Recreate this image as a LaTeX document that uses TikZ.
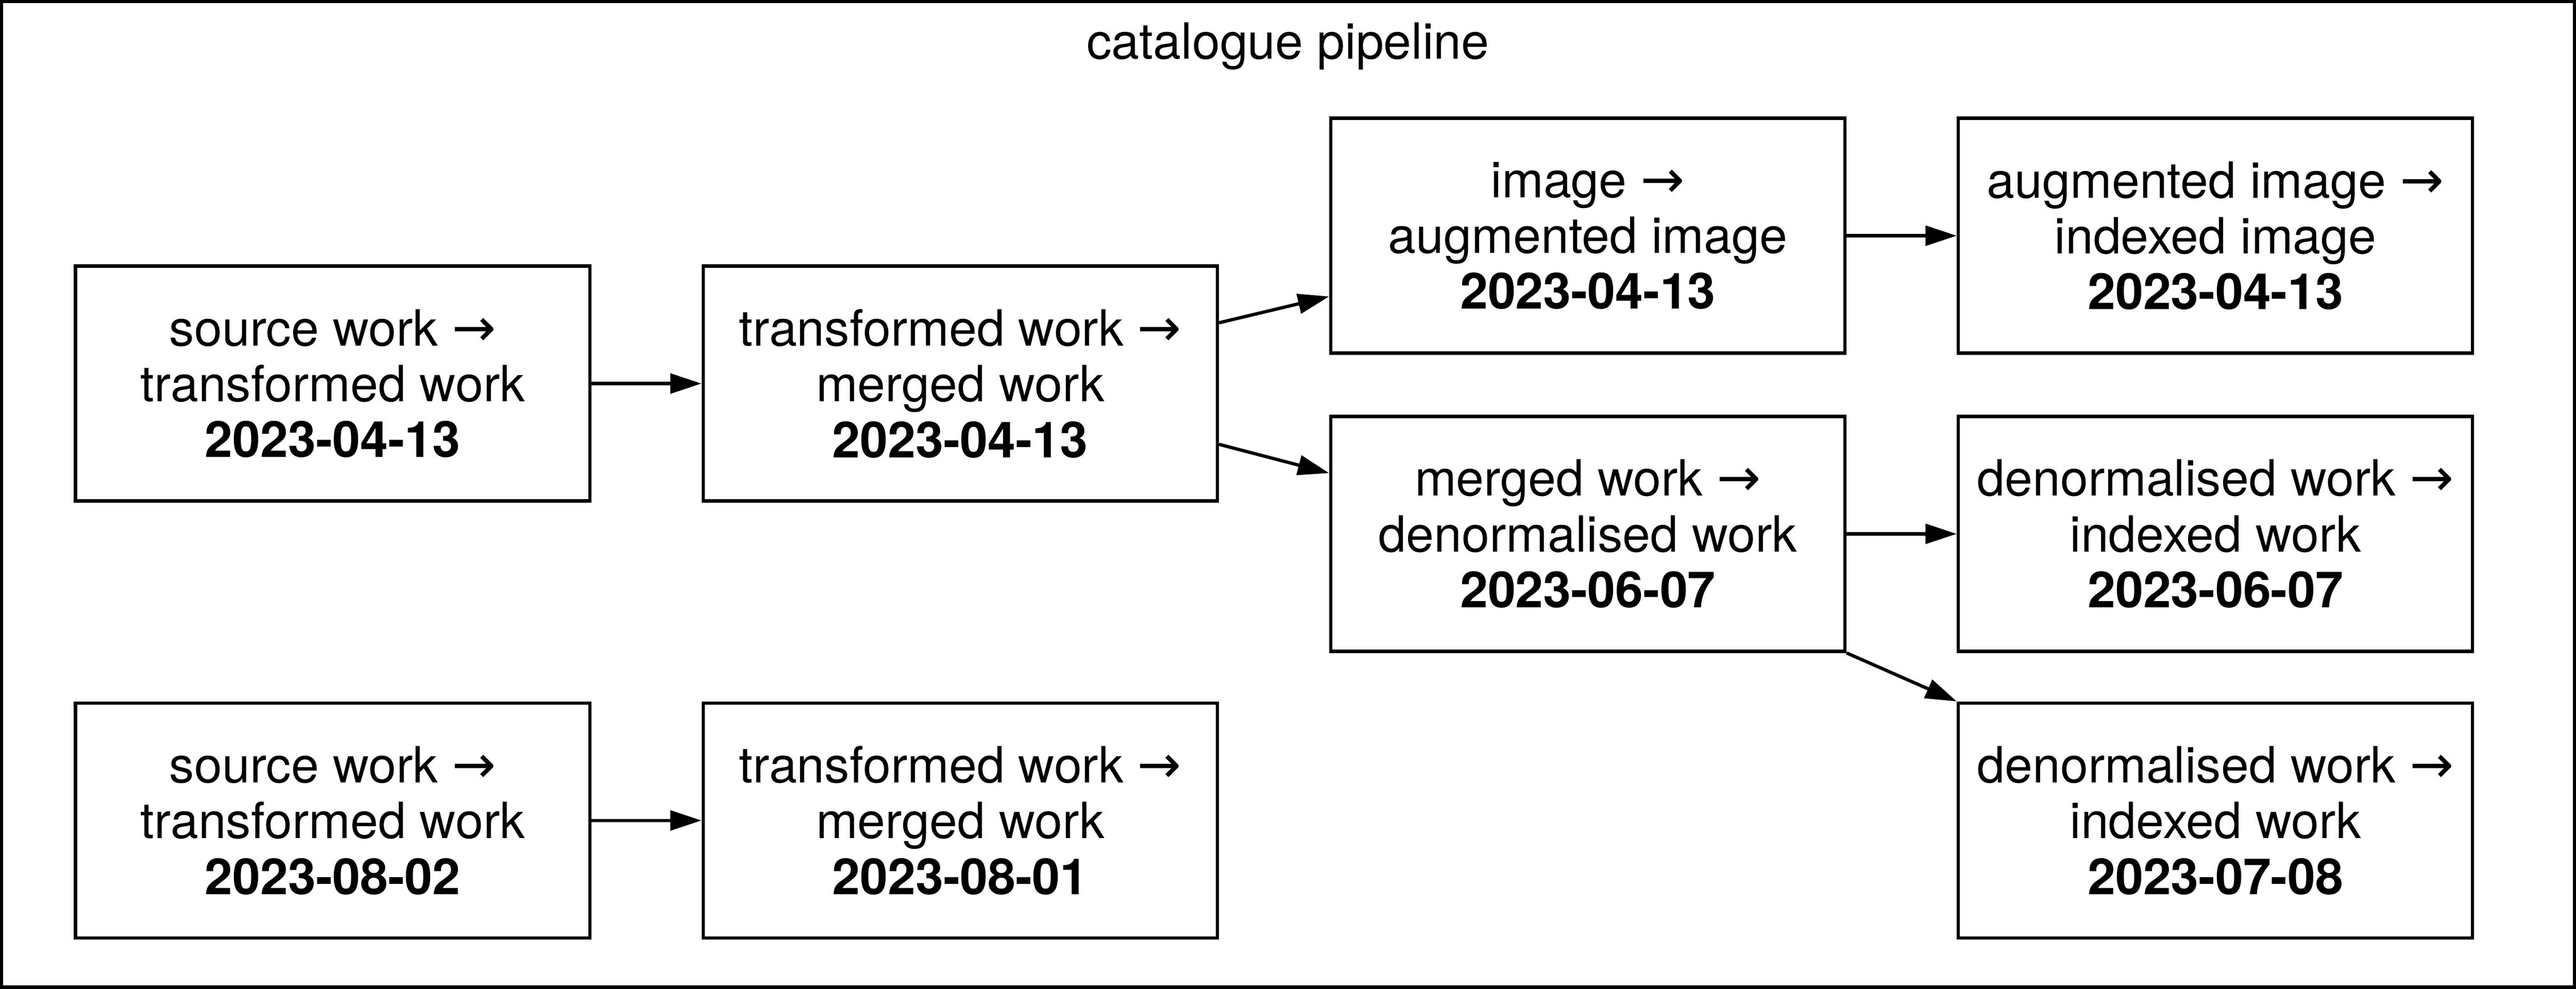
\documentclass[tikz,border=0pt]{standalone}
\usepackage{fontspec}
\setmainfont{TeX Gyre Heros}
\newfontfamily\arrowfont{DejaVu Sans}
\usetikzlibrary{arrows.meta}
\newcommand{\rarrowsym}{{\arrowfont\fontsize{16}{17}\selectfont →}}
\begin{document}
\begin{tikzpicture}[x=0.5pt,y=-0.5pt,
  stage/.style={draw, line width=1pt, minimum width=156.5pt, minimum height=71.5pt,
    align=center, inner sep=0pt, font=\fontsize{15.2}{17}\selectfont},
  flow/.style={-{Triangle[length=9.5pt,width=6pt]}, line width=1pt},
  frame/.style={draw, line width=1pt}]
\useasboundingbox (0,0) rectangle (1568,602);
\draw[frame] (1,1) rectangle (1567,601);
\node[font=\fontsize{15.2}{17}\selectfont] (title) at (784,28) {catalogue pipeline};

\node[stage] (A1) at (202.5,233.5) {source work \rarrowsym\\transformed work\\\textbf{2023-04-13}};
\node[stage] (A2) at (584.5,233.5) {transformed work \rarrowsym\\merged work\\\textbf{2023-04-13}};
\node[stage] (B1) at (966.5,143.5) {image \rarrowsym\\augmented image\\\textbf{2023-04-13}};
\node[stage] (B2) at (1348.5,143.5) {augmented image \rarrowsym\\indexed image\\\textbf{2023-04-13}};
\node[stage] (C1) at (966.5,325) {merged work \rarrowsym\\denormalised work\\\textbf{2023-06-07}};
\node[stage] (C2) at (1348.5,325) {denormalised work \rarrowsym\\indexed work\\\textbf{2023-06-07}};
\node[stage] (D) at (1348.5,499.5) {denormalised work \rarrowsym\\indexed work\\\textbf{2023-07-08}};
\node[stage] (E1) at (202.5,499.5) {source work \rarrowsym\\transformed work\\\textbf{2023-08-02}};
\node[stage] (E2) at (584.5,499.5) {transformed work \rarrowsym\\merged work\\\textbf{2023-08-01}};

\draw[flow] (A1) -- (A2);
\draw[flow] ([yshift=18.5pt]A2.east) -- ([yshift=-18.5pt]B1.west);
\draw[flow] ([yshift=-18.5pt]A2.east) -- ([yshift=18.5pt]C1.west);
\draw[flow] (B1) -- (B2);
\draw[flow] (C1) -- (C2);
\draw[flow] (C1.south east) -- (D.north west);
\draw[flow] (E1) -- (E2);
\end{tikzpicture}
\end{document}
